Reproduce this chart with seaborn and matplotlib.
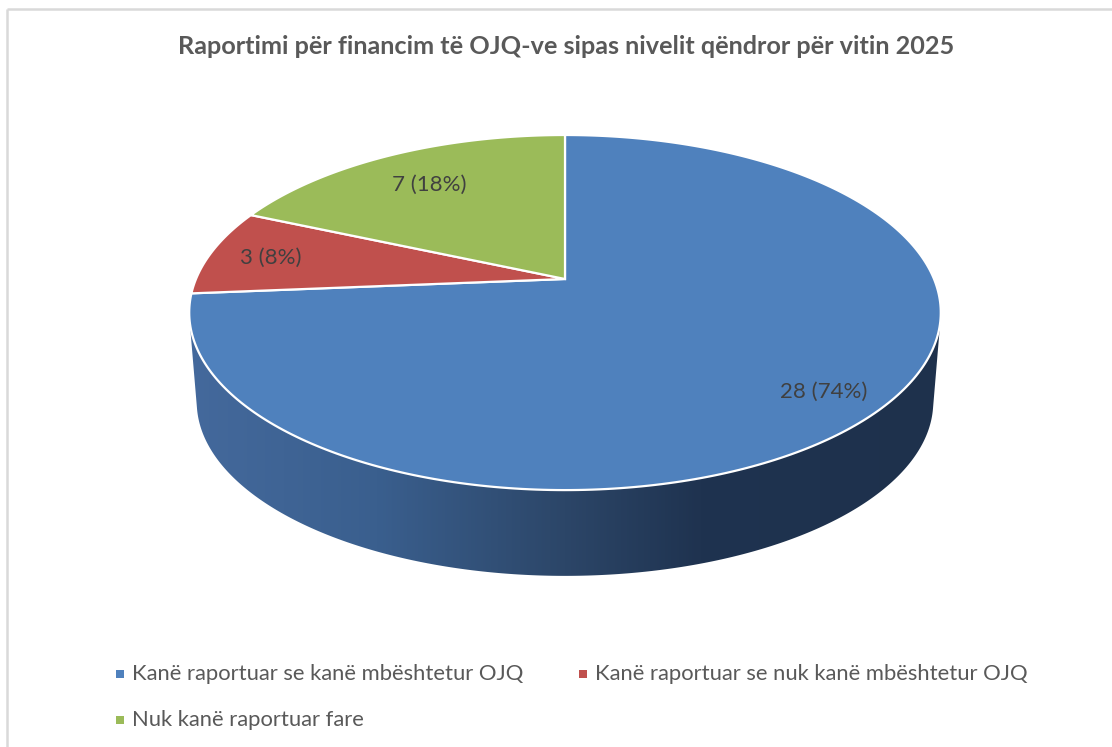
import numpy as np
import matplotlib
matplotlib.use("Agg")
import matplotlib.pyplot as plt
import seaborn as sns
from matplotlib.patches import Polygon
from matplotlib.colors import LinearSegmentedColormap

# ---------------- data ----------------
categories = [
    "Kanë raportuar se kanë mbështetur OJQ",
    "Kanë raportuar se nuk kanë mbështetur OJQ",
    "Nuk kanë raportuar fare",
]
values = [28, 3, 7]
title = "Raportimi për financim të OJQ-ve sipas nivelit qëndror për vitin 2025"
colors = ["#4f81bd", "#c0504d", "#9bbb59"]

sns.set_theme(style="white")
plt.rcParams['font.family'] = ['Lato', 'DejaVu Sans']
palette = sns.color_palette(colors)

W, H = 1112, 747
fig = plt.figure(figsize=(W / 100, H / 100), dpi=100)
ax = fig.add_axes([0, 0, 1, 1])
ax.set_xlim(0, W)
ax.set_ylim(H, 0)
ax.axis('off')

# ---------------- geometry of the perspective pie ----------------
cx, cy = 565, 279          # apex of the top face
A, B, k = 369, 171.2, 0.189
depth, sb = 90, 0.98


def proj(t, r=1.0, bottom=False):
    u, v = r * np.cos(t), r * np.sin(t)
    w = 1 + k * v
    s = sb if bottom else 1.0
    x = cx + A * s * u / w
    y = cy + (depth if bottom else 0) - B * s * v / w
    return x, y


def convex_hull(pts):
    pts = sorted(map(tuple, pts))
    def cross(o, a, b):
        return (a[0] - o[0]) * (b[1] - o[1]) - (a[1] - o[1]) * (b[0] - o[0])
    lower, upper = [], []
    for p in pts:
        while len(lower) >= 2 and cross(lower[-2], lower[-1], p) <= 0:
            lower.pop()
        lower.append(p)
    for p in reversed(pts):
        while len(upper) >= 2 and cross(upper[-2], upper[-1], p) <= 0:
            upper.pop()
        upper.append(p)
    return np.array(lower[:-1] + upper[:-1])


# side (extrusion) with horizontal gradient
tt = np.linspace(0, 2 * np.pi, 720)
top_pts = np.column_stack(proj(tt))
bot_pts = np.column_stack(proj(tt, bottom=True))
hull = convex_hull(np.vstack([top_pts, bot_pts]))
side = Polygon(hull, closed=True, facecolor='none', edgecolor='none')
ax.add_patch(side)

stops = [(0.0, (68 / 255, 105 / 255, 156 / 255)),
         (0.25, (58 / 255, 95 / 255, 142 / 255)),
         (0.5, (44 / 255, 70 / 255, 104 / 255)),
         (0.68, (31 / 255, 51 / 255, 80 / 255)),
         (1.0, (30 / 255, 49 / 255, 76 / 255))]
cmap = LinearSegmentedColormap.from_list("side", stops)
xmin, xmax = hull[:, 0].min(), hull[:, 0].max()
ymin, ymax = hull[:, 1].min(), hull[:, 1].max()
grad = np.linspace(0, 1, 512).reshape(1, -1)
im = ax.imshow(grad, cmap=cmap, extent=(xmin, xmax, ymax, ymin),
               aspect='auto', zorder=1, interpolation='bilinear')
im.set_clip_path(side)
ax.set_xlim(0, W)
ax.set_ylim(H, 0)

# top face wedges: start at 12 o'clock, clockwise
vals = np.array(values, dtype=float)
fr = vals / vals.sum()
bounds = np.pi / 2 - 2 * np.pi * np.concatenate([[0], np.cumsum(fr)])
for i in range(len(vals)):
    t = np.linspace(bounds[i], bounds[i + 1], 300)
    xs, ys = proj(t)
    poly = np.vstack([[cx, cy], np.column_stack([xs, ys])])
    ax.add_patch(Polygon(poly, closed=True, facecolor=palette[i],
                         edgecolor='white', linewidth=1.6,
                         joinstyle='miter', zorder=3))

# labels
lab_r = [0.85, 0.83, 0.75]
for i in range(len(vals)):
    mid = 0.5 * (bounds[i] + bounds[i + 1])
    lx, ly = proj(mid, r=lab_r[i])
    pct = int(round(fr[i] * 100))
    ax.text(lx, ly + 2, f"{values[i]} ({pct}%)", ha='center', va='center',
            fontsize=16, color='#404040', zorder=5)

# title
ax.text(566, 47, title, ha='center', va='center', fontsize=18.2,
        fontweight='bold', color='#595959')

# legend (row-major, manual layout)
leg_pos = [(120, 674), (583, 674), (120, 720)]
for (lx, ly), c, lab in zip(leg_pos, palette, categories):
    ax.scatter([lx], [ly], marker='s', s=36, color=c, linewidths=0, zorder=5)
    ax.text(lx + 12, ly, lab, ha='left', va='center', fontsize=15.8,
            color='#595959')

# chart border (left and top visible)
ax.plot([7, 7], [H, 9], color='#d9d9d9', lw=1.8, solid_capstyle='butt')
ax.plot([7, W], [9, 9], color='#d9d9d9', lw=1.8, solid_capstyle='butt')

fig.savefig("out.png", dpi=100)
